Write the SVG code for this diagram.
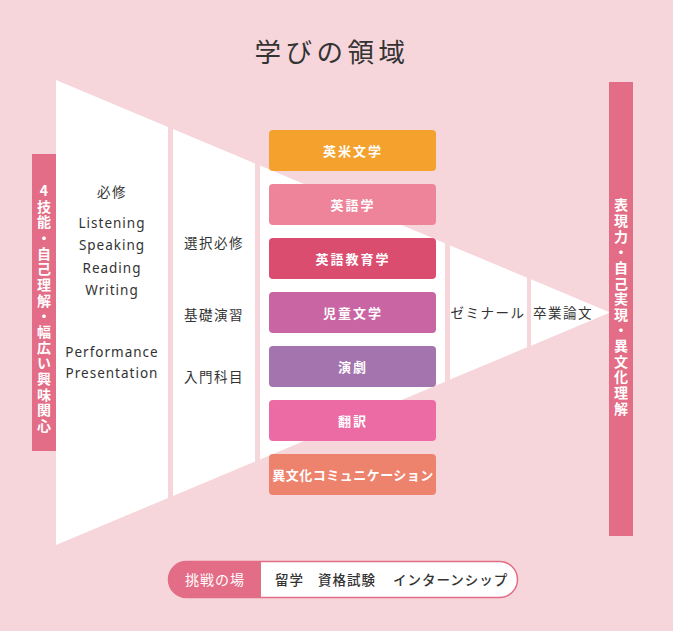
<svg xmlns="http://www.w3.org/2000/svg" width="673" height="631" viewBox="0 0 673 631">
<style>
text{font-family:"Noto Sans CJK JP","Noto Sans",sans-serif;}
.title{font-size:26.5px;fill:#333;letter-spacing:4.5px;}
.lbl{font-size:13.5px;fill:#333;letter-spacing:1.5px;text-anchor:middle;}
.en{font-family:"Noto Sans","Liberation Sans",sans-serif;font-size:13.5px;fill:#333;letter-spacing:1px;text-anchor:middle;}
.box{font-size:13px;font-weight:bold;fill:#fff;letter-spacing:2px;text-anchor:middle;}
.vt{font-size:14px;font-weight:bold;fill:#fff;text-anchor:middle;writing-mode:vertical-rl;text-orientation:upright;letter-spacing:1.65px;}
.shape{fill:#fff;}
.bar{fill:#e36d86;}
</style>
<rect width="673" height="631" fill="#f6d6da"/>
<text class="title" x="332" y="62" text-anchor="middle">学びの領域</text>

<g id="funnel">
<polygon class="shape" points="56,80 168,127 168,498 56,545"/>
<polygon class="shape" points="173,129 255,163.5 255,461.5 173,496"/>
<polygon class="shape" points="260,165.6 445,243.3 445,381.7 260,459.4"/>
<polygon class="shape" points="450,245.4 527,277.7 527,347.3 450,379.6"/>
<polygon class="shape" points="531,279.3 610,312.5 531,345.7"/>
</g>

<g id="left-bar">
<rect class="bar" x="32" y="154" width="24" height="297"/>
<text class="vt" x="44" y="309">4技能・自己理解・幅広い興味関心</text>
</g>

<g id="right-bar">
<rect class="bar" x="609" y="82" width="24" height="454"/>
<text class="vt" x="621" y="307.5">表現力・自己実現・異文化理解</text>
</g>

<g id="col1">
<text class="lbl" x="112" y="197">必修</text>
<text class="en" x="112" y="228">Listening</text>
<text class="en" x="112" y="250">Speaking</text>
<text class="en" x="112" y="273">Reading</text>
<text class="en" x="112" y="295">Writing</text>
<text class="en" x="112" y="357">Performance</text>
<text class="en" x="112" y="378">Presentation</text>
</g>

<g id="col2">
<text class="lbl" x="214" y="248">選択必修</text>
<text class="lbl" x="214" y="320">基礎演習</text>
<text class="lbl" x="214" y="382">入門科目</text>
</g>

<g id="courses">
<g id="c1"><rect x="269" y="130" width="167" height="41" rx="4" fill="#f4a12e"/><text class="box" x="353" y="155.5">英米文学</text></g>
<g id="c2"><rect x="269" y="184" width="167" height="41" rx="4" fill="#ee8499"/><text class="box" x="353" y="209.5">英語学</text></g>
<g id="c3"><rect x="269" y="238" width="167" height="41" rx="4" fill="#da4d6f"/><text class="box" x="353" y="263.5">英語教育学</text></g>
<g id="c4"><rect x="269" y="292" width="167" height="41" rx="4" fill="#c965a3"/><text class="box" x="353" y="317.5">児童文学</text></g>
<g id="c5"><rect x="269" y="346" width="167" height="41" rx="4" fill="#a474ae"/><text class="box" x="353" y="371.5">演劇</text></g>
<g id="c6"><rect x="269" y="400" width="167" height="41" rx="4" fill="#ec6ba4"/><text class="box" x="353" y="425.5">翻訳</text></g>
<g id="c7"><rect x="269" y="454" width="167" height="41" rx="4" fill="#ee836d"/><text class="box" x="353" y="479.5" style="letter-spacing:0.5px">異文化コミュニケーション</text></g>
</g>

<g id="col4">
<text class="lbl" x="488" y="318">ゼミナール</text>
<text class="lbl" x="563" y="318">卒業論文</text>
</g>

<g id="challenge">
<rect x="168.5" y="561.5" width="349" height="36" rx="18" fill="#fff" stroke="#e36d86" stroke-width="1.5"/>
<path d="M186.5,561.5 H261 V597.5 H186.5 A18,18 0 0 1 186.5,561.5 Z" fill="#e36d86"/>
<text x="215" y="584.5" font-size="14" fill="#fff" text-anchor="middle" letter-spacing="1">挑戦の場</text>
<text font-size="13.5" fill="#333" font-weight="500" letter-spacing="1"><tspan x="275" y="584.5">留学</tspan><tspan x="318" y="584.5">資格試験</tspan><tspan x="393" y="584.5">インターンシップ</tspan></text>
</g>
</svg>
